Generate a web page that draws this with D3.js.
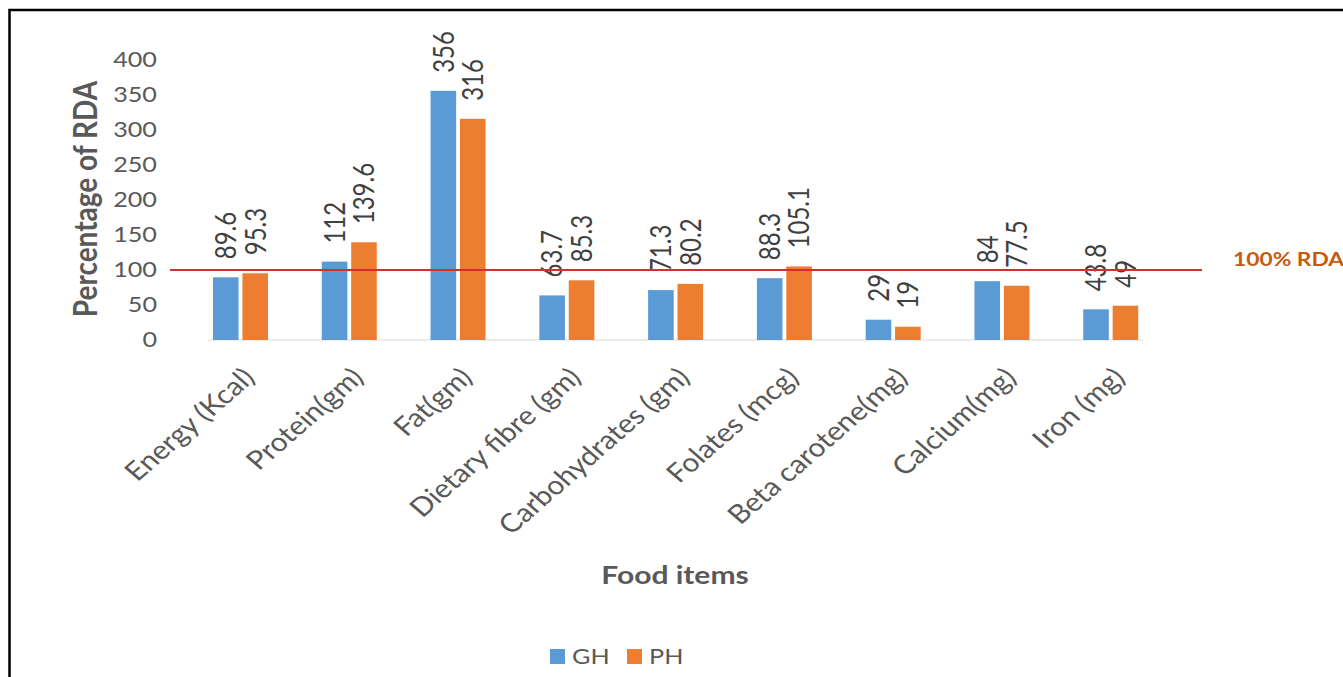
<!DOCTYPE html>
<html>
<head>
<meta charset="utf-8">
<script src="https://cdn.jsdelivr.net/npm/d3@7"></script>
<style>
  html, body { margin: 0; padding: 0; background: #fff; }
  svg { display: block; }
  text { font-family: Lato, "Open Sans", "DejaVu Sans", sans-serif; }
</style>
</head>
<body>
<svg id="chart" width="1343" height="677"></svg>
<script>
// Nutrient intake as percentage of the recommended dietary allowance
const categories = [
  "Energy (Kcal)", "Protein(gm)", "Fat(gm)", "Dietary fibre (gm)",
  "Carbohydrates (gm)", "Folates (mcg)", "Beta carotene(mg)", "Calcium(mg)", "Iron (mg)"
];
const seriesNames = ["GH", "PH"];
const ghValues = [89.6, 112, 356, 63.7, 71.3, 88.3, 29, 84, 43.8];
const phValues = [95.3, 139.6, 316, 85.3, 80.2, 105.1, 19, 77.5, 49];
const yTicks = [0, 50, 100, 150, 200, 250, 300, 350, 400];
const rdaLevel = 100;
const rdaLabel = "100% RDA";

const colors = { GH: "#5b9bd5", PH: "#ed7d31" };
const textWiden = 1.2; // glyphs are drawn slightly wide

const svg = d3.select("#chart");

// outer frame
svg.append("rect")
  .attr("x", 9.5).attr("y", 10)
  .attr("width", 1400).attr("height", 700)
  .attr("fill", "none").attr("stroke", "#000").attr("stroke-width", 2.5);

const x0 = d3.scaleBand().domain(categories).range([186, 1165]);
const x1 = d3.scaleBand().domain(seriesNames).range([27, 82]).paddingInner(0.13);
const y = d3.scaleLinear().domain([0, 400]).range([340, 60]);

// y tick labels
svg.append("g").selectAll("text")
  .data(yTicks).join("text")
  .attr("transform", d => `translate(157,${y(d)}) scale(${textWiden},1)`)
  .attr("dy", "0.35em")
  .attr("text-anchor", "end")
  .attr("font-size", 21)
  .attr("fill", "#595959")
  .text(d => d);

// faint baseline
svg.append("line")
  .attr("x1", x0.range()[0] + 22).attr("x2", x0.range()[1] - 22)
  .attr("y1", y(0)).attr("y2", y(0))
  .attr("stroke", "#d9d9d9").attr("stroke-width", 1);

const rows = categories.map((c, i) => ({
  category: c,
  items: [{ key: "GH", value: ghValues[i] }, { key: "PH", value: phValues[i] }]
}));

const groups = svg.append("g").selectAll("g")
  .data(rows).join("g")
  .attr("transform", d => `translate(${x0(d.category)},0)`);

groups.selectAll("rect")
  .data(d => d.items).join("rect")
  .attr("x", d => x1(d.key))
  .attr("width", x1.bandwidth())
  .attr("y", d => y(d.value))
  .attr("height", d => y(0) - y(d.value))
  .attr("fill", d => colors[d.key]);

// rotated value labels above bars
groups.selectAll("text")
  .data(d => d.items).join("text")
  .attr("transform", d => `translate(${x1(d.key) + x1.bandwidth() / 2},${y(d.value) - 18}) scale(${textWiden},1) rotate(-90)`)
  .attr("dy", "0.36em")
  .attr("text-anchor", "start")
  .attr("font-size", 24)
  .attr("fill", "#404040")
  .text(d => d.value);

// 100% RDA reference line
svg.append("line")
  .attr("x1", 170).attr("x2", 1202)
  .attr("y1", y(rdaLevel)).attr("y2", y(rdaLevel))
  .attr("stroke", "#d3302c").attr("stroke-width", 2);

svg.append("text")
  .attr("transform", `translate(1233,${y(rdaLevel) - 11}) scale(${textWiden},1)`)
  .attr("dy", "0.35em")
  .attr("font-size", 19).attr("font-weight", "bold")
  .attr("fill", "#c55a11")
  .text(rdaLabel);

// category labels
svg.append("g").selectAll("text")
  .data(categories).join("text")
  .attr("transform", d => `translate(${x0(d) + x0.bandwidth() / 2 + 16},379) scale(1.15,1) rotate(-45)`)
  .attr("text-anchor", "end")
  .attr("font-size", 26)
  .attr("fill", "#595959")
  .text(d => d);

// axis titles
svg.append("text")
  .attr("transform", "translate(86,199) scale(1.15,1) rotate(-90)")
  .attr("dy", "0.35em")
  .attr("text-anchor", "middle")
  .attr("font-size", 28).attr("font-weight", "bold")
  .attr("fill", "#595959")
  .text("Percentage of RDA");

svg.append("text")
  .attr("transform", `translate(675,575) scale(${textWiden},1)`)
  .attr("dy", "0.35em")
  .attr("text-anchor", "middle")
  .attr("font-size", 25).attr("font-weight", "bold")
  .attr("fill", "#595959")
  .text("Food items");

// legend
const legend = svg.append("g").selectAll("g")
  .data(seriesNames).join("g")
  .attr("transform", (d, i) => `translate(${550 + i * 77},649)`);
legend.append("rect")
  .attr("width", 15).attr("height", 15)
  .attr("fill", d => colors[d]);
legend.append("text")
  .attr("transform", `translate(22,8) scale(${textWiden},1)`)
  .attr("dy", "0.35em")
  .attr("font-size", 21)
  .attr("fill", "#595959")
  .text(d => d);
</script>
</body>
</html>
